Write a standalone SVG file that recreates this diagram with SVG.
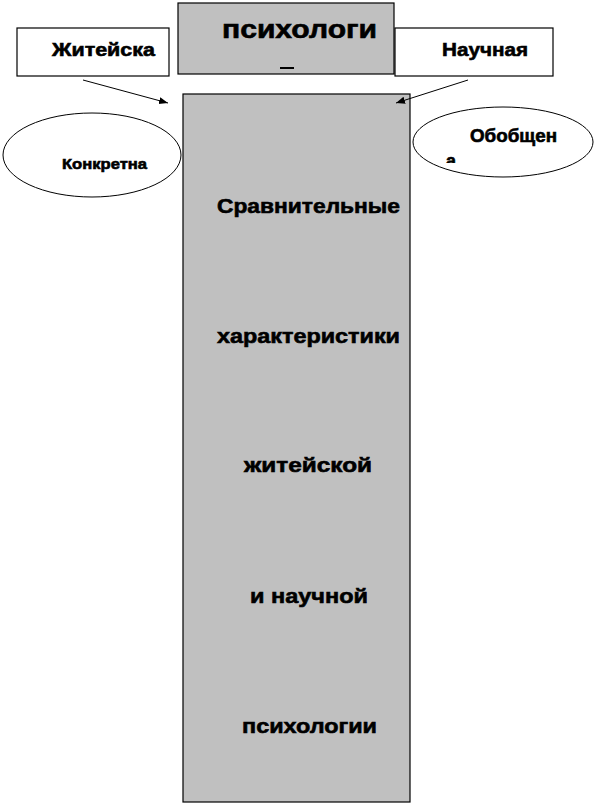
<svg xmlns="http://www.w3.org/2000/svg" width="597" height="805" viewBox="0 0 597 805">
<defs>
<style>
.box{stroke:#000;stroke-width:1.2}
.gray{fill:#c0c0c0}
.white{fill:#fff}
.t{font-family:"Liberation Sans",Arial,sans-serif;font-weight:bold;fill:#000;stroke:#000;stroke-width:0.6}
.conn{stroke:#000;stroke-width:1;fill:none}
</style>
<marker id="arr" viewBox="0 0 10 10" refX="10" refY="5" markerWidth="9" markerHeight="9" markerUnits="userSpaceOnUse" orient="auto">
<path d="M0,1 L10,5 L0,9 z" fill="#000"/>
</marker>
<clipPath id="clipA"><rect x="400" y="100" width="200" height="63"/></clipPath>
</defs>
<rect width="597" height="805" fill="#fff"/>
<g id="main">
<rect class="box gray" x="183" y="94" width="227" height="708"/>
<text class="t" x="217" y="213" font-size="21" textLength="183" lengthAdjust="spacingAndGlyphs">Сравнительные</text>
<text class="t" x="217" y="343" font-size="21" textLength="183" lengthAdjust="spacingAndGlyphs">характеристики</text>
<text class="t" x="244" y="472" font-size="21" textLength="128" lengthAdjust="spacingAndGlyphs">житейской</text>
<text class="t" x="250" y="603" font-size="21" textLength="118" lengthAdjust="spacingAndGlyphs">и научной</text>
<text class="t" x="242" y="733" font-size="21" textLength="135" lengthAdjust="spacingAndGlyphs">психологии</text>
</g>
<g id="top">
<rect class="box gray" x="178" y="3" width="216" height="71"/>
<text class="t" x="222" y="38" font-size="25" textLength="155" lengthAdjust="spacingAndGlyphs">психологи</text>
<rect x="280" y="67" width="14" height="2" fill="#000"/>
</g>
<g id="left">
<rect class="box white" x="17" y="28" width="152" height="48"/>
<text class="t" x="52" y="56" font-size="19" textLength="103" lengthAdjust="spacingAndGlyphs">Житейска</text>
</g>
<g id="right">
<rect class="box white" x="395" y="28" width="158" height="48"/>
<text class="t" x="442" y="56" font-size="19" textLength="86" lengthAdjust="spacingAndGlyphs">Научная</text>
</g>
<g id="ellipse-left">
<ellipse cx="92" cy="155" rx="89" ry="42" fill="#fff" stroke="#000" stroke-width="1"/>
<text class="t" x="62" y="169" font-size="15" textLength="85" lengthAdjust="spacingAndGlyphs">Конкретна</text>
</g>
<g id="ellipse-right">
<ellipse cx="503" cy="142" rx="90" ry="35" fill="#fff" stroke="#000" stroke-width="1"/>
<text class="t" x="470" y="142" font-size="18" textLength="87" lengthAdjust="spacingAndGlyphs">Обобщен</text>
<text class="t" x="446" y="167" font-size="18" clip-path="url(#clipA)">а</text>
</g>
<g id="connectors">
<line class="conn" x1="83" y1="80" x2="168" y2="103" marker-end="url(#arr)"/>
<line class="conn" x1="468" y1="80" x2="396" y2="103" marker-end="url(#arr)"/>
</g>
</svg>
